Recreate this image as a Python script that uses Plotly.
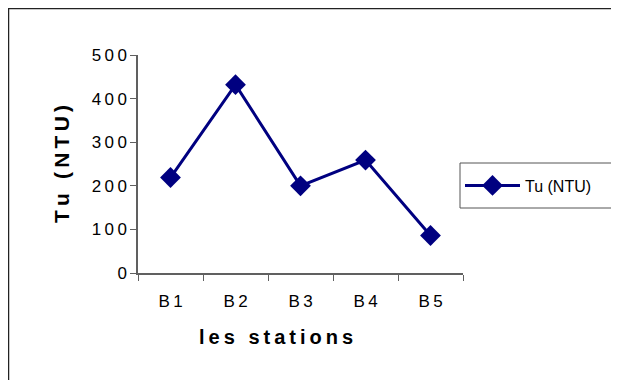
import plotly.graph_objects as go

# données : turbidité par station
stations = ["B1", "B2", "B3", "B4", "B5"]
turbidite = [219, 432, 200, 259, 86]
y_ticks = [0, 100, 200, 300, 400, 500]

# la page ajoute une marge de 8 px autour du graphique
W, H = 611, 372
# zone de tracé en pixels (moins le décalage de 8 px)
X0, X1, Y0, Y1 = 130, 455, 47, 265


def espace(txt):
    # imite l'espacement des lettres de l'original
    return "\u2009".join(txt)


fig = go.Figure()
fig.add_trace(go.Scatter(
    x=stations, y=turbidite, name="Tu (NTU)",
    mode="lines+markers",
    line=dict(color="#000080", width=3),
    marker=dict(symbol="diamond", size=16, color="#000080"),
))


def px_x(p):
    return (p - X0) / (X1 - X0)


def px_y(p):
    return (Y1 - p) / (Y1 - Y0)


# cadre extérieur
fig.add_shape(type="rect", xref="paper", yref="paper",
              x0=px_x(0.5), x1=px_x(700), y0=px_y(500), y1=px_y(0.5),
              line=dict(color="#222222", width=1.5), layer="below")
# cadre de la légende
fig.add_shape(type="rect", xref="paper", yref="paper",
              x0=px_x(452), x1=px_x(640), y0=px_y(200), y1=px_y(155),
              line=dict(color="#555555", width=1), layer="below")

# titre de l'axe x
fig.add_annotation(text="<b>" + espace("les stations") + "</b>",
                   xref="paper", yref="paper", x=px_x(268), y=px_y(342),
                   showarrow=False, font=dict(size=20))

police = "Liberation Sans, Arial, sans-serif"
fig.update_layout(
    width=W, height=H,
    margin=dict(l=X0, r=W - X1, t=Y0, b=H - Y1, autoexpand=False),
    paper_bgcolor="white", plot_bgcolor="white",
    font=dict(family=police, color="black", size=16),
    showlegend=True,
    legend=dict(x=px_x(452), y=px_y(177.5), xanchor="left", yanchor="middle",
                borderwidth=0, bgcolor="rgba(0,0,0,0)",
                font=dict(size=16), itemwidth=55),
    xaxis=dict(
        type="category", range=[-0.5, 4.5],
        tickvals=stations, ticktext=[espace(s) for s in stations],
        showline=True, linecolor="#606060", linewidth=1.5,
        ticks="outside", tickson="boundaries", ticklen=6, tickcolor="#606060",
        showgrid=False, zeroline=False,
        tickfont=dict(size=17), ticklabelstandoff=12,
    ),
    yaxis=dict(
        range=[0, 500], tickvals=y_ticks,
        ticktext=[espace(str(v)) for v in y_ticks],
        showline=True, linecolor="#606060", linewidth=1.5,
        ticks="outside", ticklen=6, tickcolor="#606060",
        showgrid=False, zeroline=False,
        tickfont=dict(size=17),
        title=dict(text="<b>" + espace("Tu (NTU)") + "</b>",
                   font=dict(size=21), standoff=16),
    ),
)

fig.write_html("out.html")
